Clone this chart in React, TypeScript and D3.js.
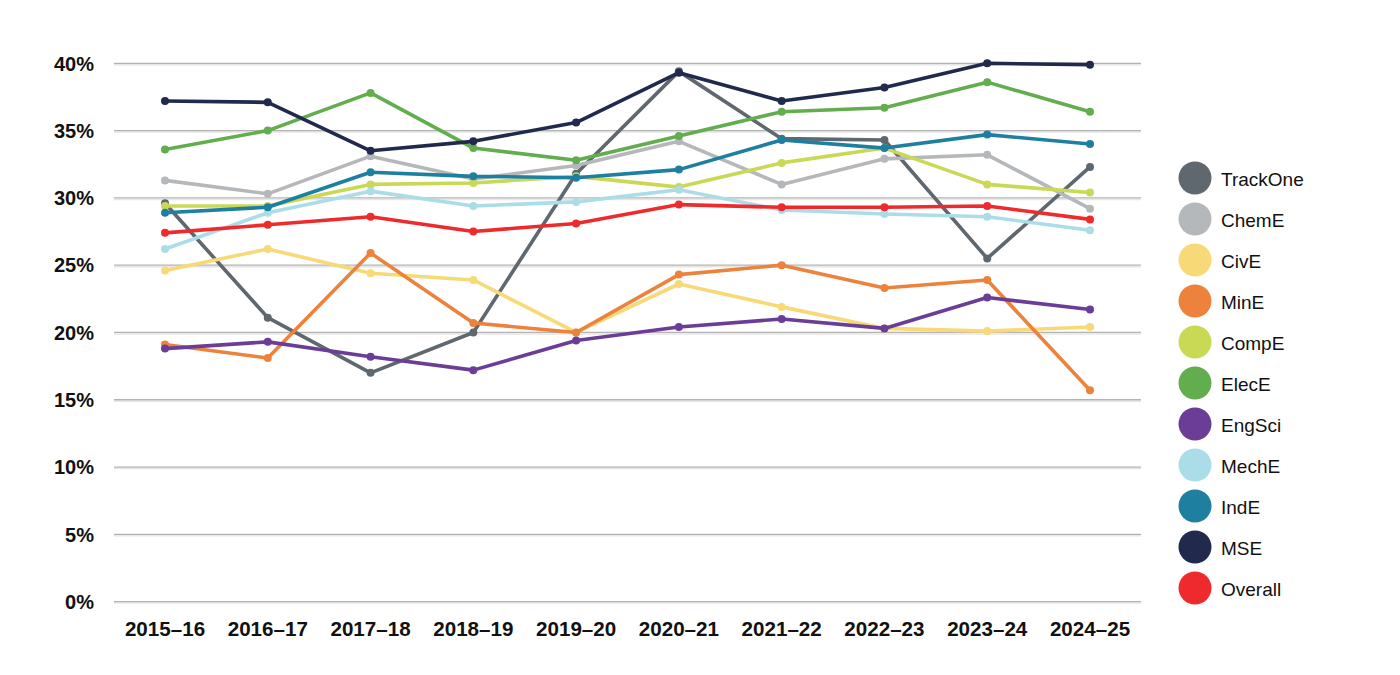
import React from "react";
import * as d3 from "d3";

const years = ["2015–16", "2016–17", "2017–18", "2018–19", "2019–20", "2020–21", "2021–22", "2022–23", "2023–24", "2024–25"];
const yTicks = [0, 5, 10, 15, 20, 25, 30, 35, 40];

const trackOne = [29.6, 21.1, 17.0, 20.0, 31.8, 39.4, 34.4, 34.3, 25.5, 32.3];
const chemE = [31.3, 30.3, 33.1, 31.4, 32.4, 34.2, 31.0, 32.9, 33.2, 29.2];
const civE = [24.6, 26.2, 24.4, 23.9, 20.0, 23.6, 21.9, 20.3, 20.1, 20.4];
const minE = [19.1, 18.1, 25.9, 20.7, 20.0, 24.3, 25.0, 23.3, 23.9, 15.7];
const compE = [29.4, 29.4, 31.0, 31.1, 31.6, 30.8, 32.6, 33.7, 31.0, 30.4];
const elecE = [33.6, 35.0, 37.8, 33.7, 32.8, 34.6, 36.4, 36.7, 38.6, 36.4];
const engSci = [18.8, 19.3, 18.2, 17.2, 19.4, 20.4, 21.0, 20.3, 22.6, 21.7];
const mechE = [26.2, 28.9, 30.5, 29.4, 29.7, 30.6, 29.1, 28.8, 28.6, 27.6];
const indE = [28.9, 29.3, 31.9, 31.6, 31.5, 32.1, 34.3, 33.7, 34.7, 34.0];
const mse = [37.2, 37.1, 33.5, 34.2, 35.6, 39.3, 37.2, 38.2, 40.0, 39.9];
const overall = [27.4, 28.0, 28.6, 27.5, 28.1, 29.5, 29.3, 29.3, 29.4, 28.4];

const seriesNames = ["TrackOne", "ChemE", "CivE", "MinE", "CompE", "ElecE", "EngSci", "MechE", "IndE", "MSE", "Overall"];
const seriesValues = [trackOne, chemE, civE, minE, compE, elecE, engSci, mechE, indE, mse, overall];
const seriesColors = ["#5f676f", "#b5b8bb", "#f7d977", "#ed823c", "#c9d955", "#62ad4d", "#6b3d96", "#abdde9", "#1f7fa1", "#21294d", "#ee2a2c"];

const W = 1400;
const H = 675;
const FONT = "'Liberation Sans', Arial, Helvetica, sans-serif";

export default function App() {
  const x = d3.scalePoint<string>().domain(years).range([165, 1090]);
  const y = d3.scaleLinear().domain([0, 40]).range([601.6, 63.3]);
  const line = d3
    .line<number>()
    .x((_, i) => x(years[i]) as number)
    .y((d) => y(d));

  const gridX0 = 114;
  const gridX1 = 1141;

  return (
    <div style={{ position: "absolute", left: 0, top: 0 }}>
      <svg width={W} height={H} style={{ display: "block", background: "#fff" }}>
        {yTicks.map((t) => (
          <g key={t}>
            <line x1={gridX0} x2={gridX1} y1={y(t) + 1.5} y2={y(t) + 1.5} stroke="#e6e6e6" strokeWidth={1.5} />
            <line x1={gridX0} x2={gridX1} y1={y(t)} y2={y(t)} stroke="#b3b3b3" strokeWidth={1.3} />
            <text x={94} y={y(t) + 7.2} textAnchor="end" fontFamily={FONT} fontWeight="bold" fontSize={20} fill="#111">
              {`${t}%`}
            </text>
          </g>
        ))}
        {years.map((yr) => (
          <text key={yr} x={x(yr)} y={636} textAnchor="middle" fontFamily={FONT} fontWeight="bold" fontSize={20.6} fill="#111">
            {yr}
          </text>
        ))}
        {seriesValues.map((vals, si) => (
          <g key={seriesNames[si]}>
            <path d={line(vals) || ""} fill="none" stroke={seriesColors[si]} strokeWidth={3.6} strokeLinejoin="round" />
            {vals.map((v, i) => (
              <circle key={i} cx={x(years[i])} cy={y(v)} r={4} fill={seriesColors[si]} />
            ))}
          </g>
        ))}
        {seriesNames.map((name, i) => (
          <g key={name} transform={`translate(0, ${178 + i * 41})`}>
            <circle cx={1195} cy={0} r={16.5} fill={seriesColors[i]} />
            <text x={1221} y={7.5} fontFamily={FONT} fontSize={19} fill="#111">
              {name}
            </text>
          </g>
        ))}
      </svg>
    </div>
  );
}
